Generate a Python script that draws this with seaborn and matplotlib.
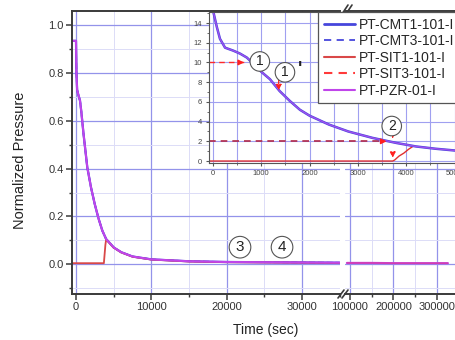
import matplotlib
matplotlib.use("Agg")
import numpy as np
import pandas as pd
import seaborn as sns
import matplotlib.pyplot as plt
from matplotlib.ticker import MultipleLocator, FixedLocator, FormatStrFormatter
from matplotlib.lines import Line2D

sns.set_style("white")
plt.rcParams['font.family'] = ['Liberation Sans', 'DejaVu Sans']

# ---------------- data ----------------
series_names = ["PT-CMT1-101-I", "PT-CMT3-101-I", "PT-SIT1-101-I", "PT-SIT3-101-I", "PT-PZR-01-I"]

# main plot, early part (sec, normalized)
time_main = [-600, 0, 60, 150, 300, 530, 700, 1000, 1500, 2000, 2500, 3000, 3500, 4000,
             5000, 6000, 7500, 10000, 15000, 20000, 25000, 30000, 35000]
pzr_main = [0.935, 0.935, 0.80, 0.73, 0.71, 0.685, 0.64, 0.545, 0.405, 0.32, 0.25, 0.19, 0.14, 0.105,
            0.07, 0.05, 0.032, 0.02, 0.012, 0.009, 0.008, 0.007, 0.006]
time_sit_main = [-600, 3700, 3900, 4000, 5000, 6000, 7500, 10000, 15000, 20000, 25000, 30000, 35000]
sit1_main = [0.004, 0.004, 0.08, 0.103, 0.069, 0.049, 0.031, 0.019, 0.011, 0.008, 0.007, 0.006, 0.005]

# main plot, late part
time_late = [93000, 150000, 200000, 250000, 325000]
pzr_late = [0.005, 0.005, 0.004, 0.004, 0.004]

# inset (sec, MPa)
time_in = [0, 80, 145, 250, 420, 560, 700, 830, 990, 1180, 1380, 1590, 1800, 2000,
           2400, 2800, 3300, 3800, 4200, 4600, 5000, 5400]
pzr_in = [15.3, 13.6, 12.4, 11.5, 11.2, 10.9, 10.5, 9.9, 9.1, 8.3, 7.1, 6.1, 5.2, 4.6,
          3.7, 3.0, 2.35, 1.83, 1.48, 1.25, 1.07, 0.95]
time_sit_in = [-100, 3720, 3760, 3850, 3950, 4050, 4150]
sit1_in = [0.0, 0.0, 0.1, 0.5, 0.8, 1.2, 1.52]

# setpoints / events in inset
setpoint_levels = [10, 2]
setpoint_end_t = [700, 3650]
vert_arrow_t = [1360, 3720, 3720]
vert_arrow_from = [8.6, 2.75, 0.9]
vert_arrow_to = [6.9, 2.05, 0.05]
inset_marks = ["1", "1", "2"]
inset_mark_t = [970, 1490, 3700]
inset_mark_p = [10.1, 9.0, 3.55]
main_marks = ["3", "4"]
main_mark_t = [21770, 27350]
main_mark_p = [0.071, 0.071]

x_ticks_early = [0, 10000, 20000, 30000]
x_ticks_late = [100000, 200000, 300000]

# ---------------- style ----------------
W, H = 456, 340
c_cmt = "#4646dc"
c_sit1 = "#d94848"
c_sit3 = "#ff3a3a"
c_pzr = "#c045ea"
grid_major = "#9393ea"
grid_minor = "#dcdcf7"
spine_c = "#3a3a3a"

fig = plt.figure(figsize=(W / 100, H / 100), dpi=100)

def fx(px):
    return px / W

def fy(py):
    return 1 - py / H

ax1 = fig.add_axes([fx(72), fy(294), fx(340) - fx(72), fy(11) - fy(294)])
ax2 = fig.add_axes([fx(345), fy(294), fx(456) - fx(345), fy(11) - fy(294)])
axi = fig.add_axes([fx(209), fy(163), fx(470) - fx(209), fy(12) - fy(163)])

ylim_main = (-0.125, 1.06)

for ax in (ax1, ax2):
    ax.set_ylim(*ylim_main)
    ax.yaxis.set_major_locator(MultipleLocator(0.2))
    ax.yaxis.set_minor_locator(MultipleLocator(0.1))
    ax.grid(True, which="major", color=grid_major, lw=0.9)
    ax.grid(True, which="minor", color=grid_minor, lw=0.7)
    ax.set_axisbelow(True)
    for s in ax.spines.values():
        s.set_color(spine_c)
        s.set_linewidth(1.4)
    ax.tick_params(which="major", direction="out", length=4, width=1.1, color=spine_c,
                   labelsize=8, labelcolor="#333333", pad=2)
    ax.tick_params(which="minor", direction="out", length=2.5, width=1.0, color=spine_c)

ax1.set_xlim(-531, 35045)
ax1.xaxis.set_major_locator(FixedLocator(x_ticks_early))
ax1.xaxis.set_minor_locator(MultipleLocator(5000))
ax1.yaxis.set_major_formatter(FormatStrFormatter("%.1f"))
ax1.spines["right"].set_visible(False)
ax1.tick_params(axis="y", which="both", left=True)
ax1.tick_params(axis="x", which="both", bottom=True)

ax2.set_xlim(88500, 343700)
ax2.xaxis.set_major_locator(FixedLocator(x_ticks_late))
ax2.xaxis.set_minor_locator(MultipleLocator(50000))
ax2.spines["left"].set_visible(False)
ax2.spines["right"].set_visible(False)
ax2.tick_params(axis="y", which="both", left=False, labelleft=False)
ax2.tick_params(axis="x", which="both", bottom=True)

# main lines
sns.lineplot(x=time_main, y=pzr_main, ax=ax1, color=c_cmt, lw=1.6)
sns.lineplot(x=time_main, y=pzr_main, ax=ax1, color=c_cmt, lw=1.2, linestyle="--")
sns.lineplot(x=time_sit_main, y=sit1_main, ax=ax1, color=c_sit1, lw=1.3)
sns.lineplot(x=time_main, y=pzr_main, ax=ax1, color=c_pzr, lw=1.5)
sns.lineplot(x=time_late, y=pzr_late, ax=ax2, color=c_pzr, lw=1.6)
sns.lineplot(x=time_late, y=pzr_late, ax=ax2, color="#e03a8a", lw=1.0, alpha=0.7)

for lab, t, p in zip(main_marks, main_mark_t, main_mark_p):
    ax1.text(t, p, lab, fontsize=11, ha="center", va="center", color="#222222",
             bbox=dict(boxstyle="circle,pad=0.25", fc="white", ec="#555555", lw=0.8))

# ---------------- inset ----------------
axi.set_xlim(-82, 5320)
axi.set_ylim(-0.2, 15.12)
axi.set_facecolor("white")
axi.xaxis.set_major_locator(MultipleLocator(1000))
axi.xaxis.set_minor_locator(MultipleLocator(500))
axi.yaxis.set_major_locator(MultipleLocator(2))
axi.yaxis.set_minor_locator(MultipleLocator(1))
axi.grid(True, which="major", color="#a0a0f0", lw=0.8)
axi.grid(True, which="minor", axis="x", color="#a0a0f0", lw=0.8)
axi.set_axisbelow(True)
for s in axi.spines.values():
    s.set_color("#555555")
    s.set_linewidth(0.8)
axi.tick_params(which="major", direction="out", length=2.5, width=0.8, color="#555555",
                labelsize=5.5, labelcolor="#444444", pad=2.5)
axi.tick_params(which="minor", direction="out", length=1.5, width=0.6, color="#555555")
axi.tick_params(axis="x", which="both", bottom=True)
axi.tick_params(axis="y", which="both", left=True)

sns.lineplot(x=time_sit_in, y=sit1_in, ax=axi, color="#e03030", lw=1.0)
axi.plot([-82, setpoint_end_t[0]], [setpoint_levels[0]] * 2, color="#ff2a2a", lw=1.0, ls=(0, (4, 3)))
axi.plot([-82, setpoint_end_t[1]], [setpoint_levels[1]] * 2, color="#b02848", lw=1.2, ls=(0, (4, 3)))
for te, lv in zip(setpoint_end_t, setpoint_levels):
    axi.annotate("", xy=(te, lv), xytext=(te - 180, lv),
                 arrowprops=dict(arrowstyle="-|>", color="#ff2020", lw=1.0, mutation_scale=8))
sns.lineplot(x=time_in, y=pzr_in, ax=axi, color=c_cmt, lw=1.8)
sns.lineplot(x=time_in, y=pzr_in, ax=axi, color="#a050ee", lw=1.0)
for t, a, b in zip(vert_arrow_t, vert_arrow_from, vert_arrow_to):
    axi.annotate("", xy=(t, b), xytext=(t, a),
                 arrowprops=dict(arrowstyle="-|>", color="#ff2020", lw=0.9, ls="--", mutation_scale=8))

for lab, t, p in zip(inset_marks, inset_mark_t, inset_mark_p):
    axi.text(t, p, lab, fontsize=10, ha="center", va="center", color="#222222",
             bbox=dict(boxstyle="circle,pad=0.2", fc="white", ec="#555555", lw=0.8))
axi.text(1800, 9.3, "'", fontsize=13, fontweight="bold", ha="center", va="center", color="#222222")

# ---------------- legend ----------------
handles = [
    Line2D([], [], color=c_cmt, lw=2.0),
    Line2D([], [], color=c_cmt, lw=1.3, ls=(0, (4, 3))),
    Line2D([], [], color=c_sit1, lw=1.5),
    Line2D([], [], color=c_sit3, lw=1.5, ls=(0, (4, 3))),
    Line2D([], [], color=c_pzr, lw=1.5),
]
leg = fig.legend(handles, series_names, loc="upper left", bbox_to_anchor=(fx(318), fy(12)),
                 bbox_transform=fig.transFigure, fontsize=10, frameon=True, fancybox=False,
                 borderpad=0.4, labelspacing=0.18, handlelength=2.3, handletextpad=0.25,
                 borderaxespad=0, framealpha=1)
leg.get_frame().set_edgecolor("#555555")
leg.get_frame().set_linewidth(0.9)
leg.set_zorder(10)

# ---------------- break marks and labels ----------------
for dx in (0, 4):
    fig.add_artist(Line2D([fx(338 + dx), fx(344 + dx)], [fy(298), fy(290)], color=spine_c, lw=1.2))
    fig.add_artist(Line2D([fx(342 + dx), fx(348 + dx)], [fy(14), fy(5)], color=spine_c, lw=1.2))

fig.text(fx(266), fy(330), "Time (sec)", ha="center", va="center", fontsize=10, color="#222222")
fig.text(fx(20), fy(160), "Normalized Pressure", ha="center", va="center", rotation=90,
         fontsize=10.5, color="#222222")

fig.savefig("out.png", dpi=100)
